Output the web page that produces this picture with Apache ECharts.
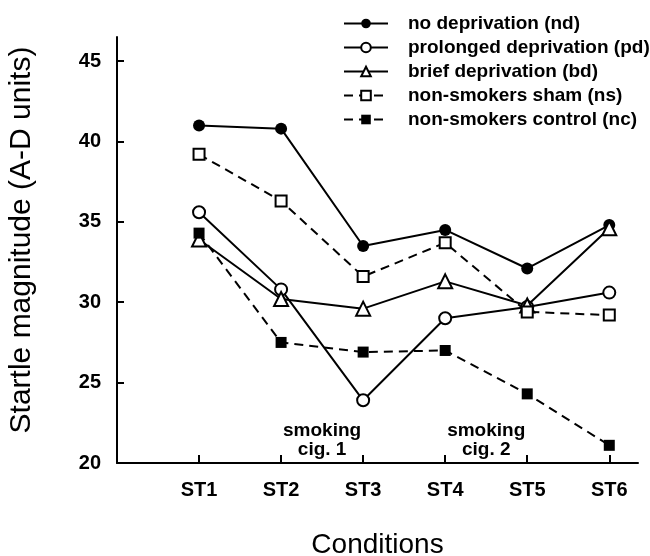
<!DOCTYPE html>
<html>
<head>
<meta charset="utf-8">
<script src="https://cdn.jsdelivr.net/npm/echarts@6/dist/echarts.min.js"></script>
<style>html,body{margin:0;padding:0;background:#fff}#c{width:650px;height:556px}</style>
</head>
<body>
<div id="c"></div>
<script>
var categories = ['ST1', 'ST2', 'ST3', 'ST4', 'ST5', 'ST6'];
var yTicks = [20, 25, 30, 35, 40, 45];
var nd = [41.0, 40.8, 33.5, 34.5, 32.1, 34.8];
var pd = [35.6, 30.8, 23.9, 29.0, 29.7, 30.6];
var bd = [33.9, 30.2, 29.6, 31.3, 29.8, 34.6];
var ns = [39.2, 36.3, 31.6, 33.7, 29.4, 29.2];
var nc = [34.3, 27.5, 26.9, 27.0, 24.3, 21.1];
var annotations = [
  { x: 2.5, y: 21.4, text: 'smoking\ncig. 1' },
  { x: 4.5, y: 21.4, text: 'smoking\ncig. 2' }
];

var FONT = '"Liberation Sans", Arial, Helvetica, sans-serif';
function pts(arr) { return arr.map(function (v, i) { return [i + 1, v]; }); }

function mk(name, data, symbol, filled, dashed, extra) {
  var s = {
    name: name,
    type: 'line',
    data: pts(data),
    symbol: symbol,
    symbolSize: symbol === 'triangle' ? 14 : (symbol === 'rect' ? 11 : 12),
    showSymbol: true,
    lineStyle: { color: '#000', width: 2, type: dashed ? [9, 6] : 'solid' },
    itemStyle: { color: filled ? '#000' : '#fff', borderColor: '#000', borderWidth: filled ? 0 : 2 },
    emphasis: { disabled: true },
    z: 3
  };
  if (extra) for (var k in extra) s[k] = extra[k];
  return s;
}

var chart = echarts.init(document.getElementById('c'), null, { renderer: 'canvas' });
chart.setOption({
  animation: false,
  backgroundColor: '#fff',
  textStyle: { fontFamily: FONT, color: '#000' },
  grid: { left: 117, right: 12, top: 37, bottom: 93, containLabel: false, outerBoundsMode: 'none' },
  legend: {
    orient: 'vertical',
    left: 338,
    top: 9,
    itemWidth: 44,
    itemHeight: 12,
    itemGap: 5,
    textStyle: { fontFamily: FONT, fontWeight: 'bold', fontSize: 19, color: '#000', padding: [0, 0, 0, 15] },
    data: ['no deprivation (nd)', 'prolonged deprivation (pd)', 'brief deprivation (bd)', 'non-smokers sham (ns)', 'non-smokers control (nc)']
  },
  xAxis: {
    type: 'value',
    min: 0,
    max: 6.35,
    interval: 1,
    splitLine: { show: false },
    axisLine: { show: true, lineStyle: { color: '#000', width: 2 } },
    axisTick: { show: true, inside: true, length: 8, lineStyle: { color: '#000', width: 2 }, customValues: [1, 2, 3, 4, 5, 6] },
    axisLabel: {
      customValues: [1, 2, 3, 4, 5, 6],
      formatter: function (v) { return categories[Math.round(v) - 1] || ''; },
      fontFamily: FONT, fontWeight: 'bold', fontSize: 20, color: '#000', margin: 17
    },
    name: 'Conditions',
    nameLocation: 'middle',
    nameGap: 68,
    nameTextStyle: { fontFamily: FONT, fontSize: 28, color: '#000' }
  },
  yAxis: {
    type: 'value',
    min: 20,
    max: 46.5,
    interval: 5,
    splitLine: { show: false },
    axisLine: { show: true, lineStyle: { color: '#000', width: 2 } },
    axisTick: { show: true, inside: true, length: 7, lineStyle: { color: '#000', width: 2 }, customValues: yTicks },
    axisLabel: {
      customValues: yTicks,
      fontFamily: FONT, fontWeight: 'bold', fontSize: 20, color: '#000', margin: 16
    },
    name: 'Startle magnitude (A-D units)',
    nameLocation: 'middle',
    nameGap: 80,
    nameTextStyle: { fontFamily: FONT, fontSize: 30, color: '#000', padding: [0, 0, 0, 20] }
  },
  series: [
    mk('no deprivation (nd)', nd, 'circle', true, false),
    mk('prolonged deprivation (pd)', pd, 'circle', false, false),
    mk('brief deprivation (bd)', bd, 'triangle', false, false),
    mk('non-smokers sham (ns)', ns, 'rect', false, true),
    mk('non-smokers control (nc)', nc, 'rect', true, true, {
      markPoint: {
        symbol: 'circle',
        symbolSize: 0,
        silent: true,
        label: {
          show: true,
          position: 'inside',
          formatter: function (p) { return p.name; },
          fontFamily: FONT, fontWeight: 'bold', fontSize: 19, color: '#000', lineHeight: 19
        },
        data: annotations.map(function (a) { return { name: a.text, coord: [a.x, a.y] }; })
      }
    })
  ]
});
</script>
</body>
</html>
